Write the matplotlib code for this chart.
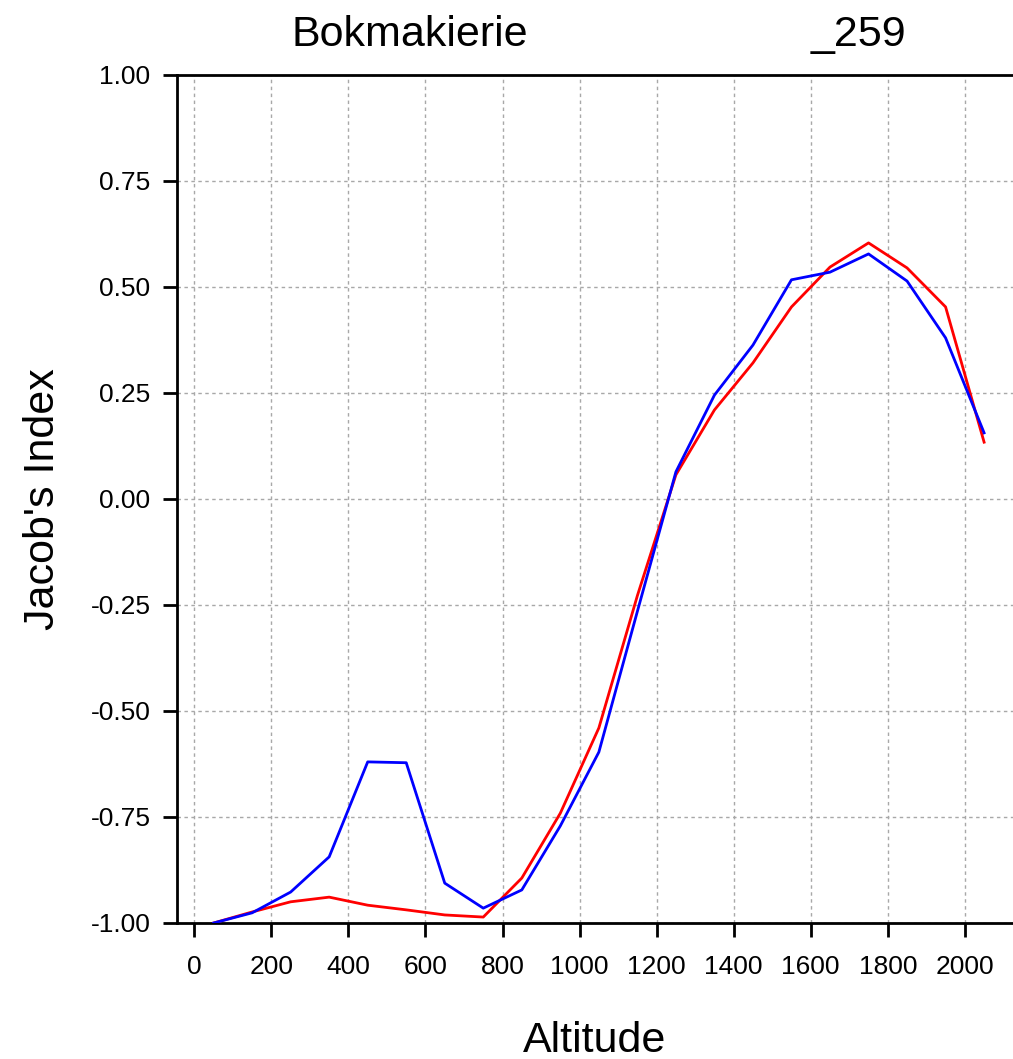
import numpy as np
import matplotlib
matplotlib.use('Agg')
import matplotlib.pyplot as plt

plt.rcParams['font.family'] = ['Liberation Sans', 'DejaVu Sans']

# altitude bins (midpoints) and Jacob's index for the two series
altitude = [50, 150, 250, 350, 450, 550, 650, 750, 850, 950, 1050,
            1150, 1250, 1350, 1450, 1550, 1650, 1750, 1850, 1950, 2050]
blue_vals = [-1.00, -0.976, -0.927, -0.844, -0.620, -0.622, -0.906, -0.965, -0.922, -0.771, -0.597,
             -0.265, 0.064, 0.245, 0.363, 0.517, 0.535, 0.578, 0.514, 0.380, 0.156]
red_vals = [-1.00, -0.974, -0.950, -0.939, -0.958, -0.969, -0.981, -0.986, -0.894, -0.741, -0.540,
            -0.228, 0.057, 0.210, 0.321, 0.453, 0.547, 0.604, 0.545, 0.453, 0.134]
xticks = [0, 200, 400, 600, 800, 1000, 1200, 1400, 1600, 1800, 2000]
yticks = [-1.00, -0.75, -0.50, -0.25, 0.00, 0.25, 0.50, 0.75, 1.00]

fig = plt.figure(figsize=(10.13, 10.59), dpi=100)
ax = fig.add_axes([177/1013, 1-923/1059, 1-177/1013, (923-75)/1059])

ax.plot(altitude, red_vals, color='#ff0000', lw=2, zorder=3)
ax.plot(altitude, blue_vals, color='#0000ff', lw=2, zorder=4)

ax.set_xlim(-45, 2125)
ax.set_ylim(-1.0, 1.0)
ax.set_xticks(xticks)
ax.set_yticks(yticks)
ax.set_yticklabels(['%.2f' % v for v in yticks])
ax.grid(True, color='#a8a8a8', lw=1, linestyle=(0, (2.5, 2.5)))

for s in ['left', 'top', 'bottom']:
    ax.spines[s].set_linewidth(2)
ax.spines['right'].set_visible(False)
ax.tick_params(direction='out', length=10, width=2, labelsize=19)
ax.tick_params(axis='y', pad=9)
ax.tick_params(axis='x', pad=13)

ax.set_xlabel('Altitude', fontsize=31, labelpad=30)
ax.set_ylabel("Jacob's Index", fontsize=31, labelpad=20)

fig.text(410/1013, 1-35/1059, 'Bokmakierie', fontsize=31, ha='center', va='center')
fig.text(858/1013, 1-35/1059, '_259', fontsize=31, ha='center', va='center')

fig.savefig('out.png', dpi=100)
